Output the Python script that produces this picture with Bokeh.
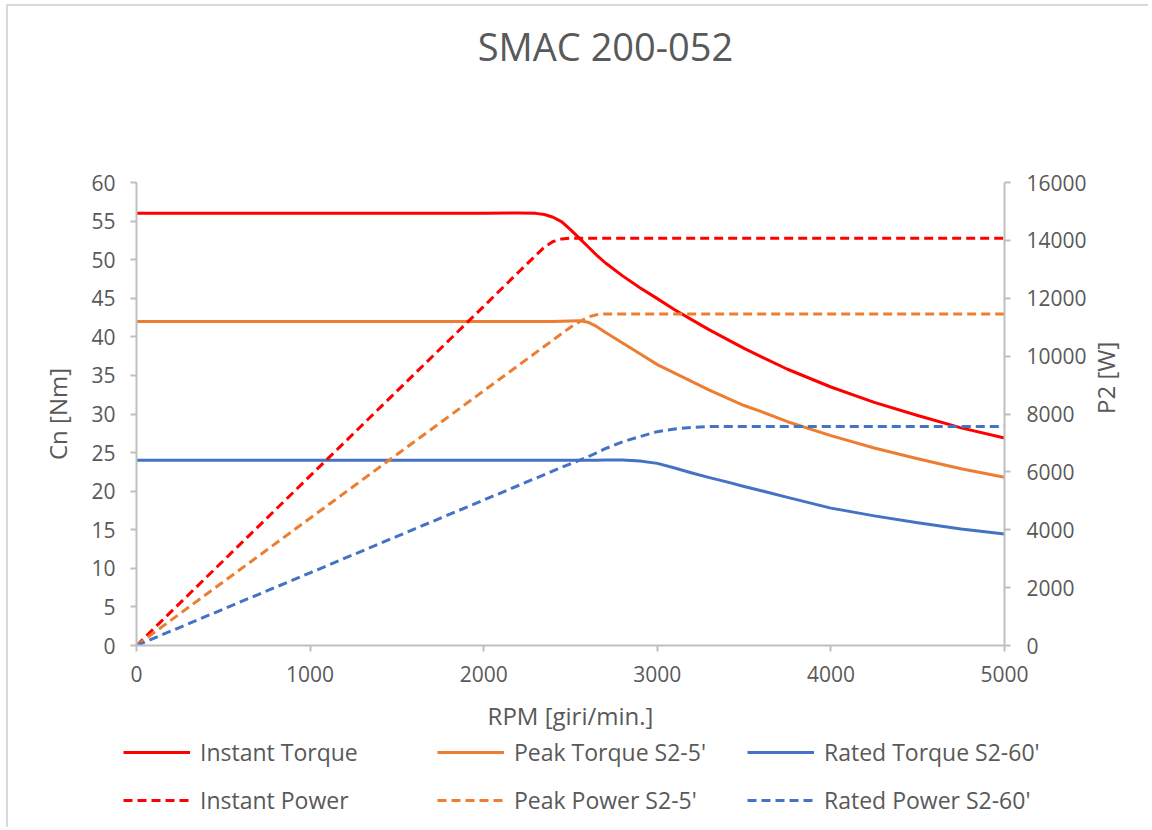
import math
from bokeh.plotting import figure
from bokeh.layouts import column
from bokeh.models import Range1d, LinearAxis, Legend, LegendItem, FixedTicker
from bokeh.core.properties import value
from bokeh.embed import file_html
from bokeh.resources import INLINE

# ---- data ----
rpm = [0, 500, 1000, 1500, 2000, 2200, 2300, 2350, 2400, 2450, 2500, 2550, 2600, 2650, 2700,
       2800, 2900, 3000, 3100, 3200, 3300, 3400, 3500, 3600, 3750, 4000, 4250, 4500, 4750, 5000]

instant_torque = [56, 56, 56, 56, 56, 56.05, 56.0, 55.85, 55.5, 54.9, 53.9, 52.8, 51.7, 50.6, 49.6,
                  47.9, 46.35, 44.95, 43.5, 42.2, 40.9, 39.7, 38.5, 37.4, 35.8, 33.5, 31.5, 29.8, 28.2, 26.9]
peak_torque = [42, 42, 42, 42, 42, 42, 42, 42, 42, 42.02, 42.05, 42.1, 41.9, 41.35, 40.6,
               39.2, 37.8, 36.4, 35.3, 34.2, 33.1, 32.1, 31.1, 30.3, 29.0, 27.2, 25.6, 24.2, 22.9, 21.8]
rated_torque = [24, 24, 24, 24, 24, 24, 24, 24, 24, 24, 24, 24, 24, 24, 24.05,
                24.03, 23.9, 23.6, 23.0, 22.35, 21.75, 21.2, 20.6, 20.05, 19.2, 17.8, 16.8, 15.9, 15.1, 14.45]

instant_power = [0, 2930, 5860, 8790, 11720, 12900, 13480, 13770, 13960, 14050, 14075, 14075, 14075, 14075, 14075,
                 14075, 14075, 14075, 14075, 14075, 14075, 14075, 14075, 14075, 14075, 14075, 14075, 14075, 14075, 14075]
peak_power = [0, 2200, 4400, 6600, 8800, 9680, 10120, 10340, 10560, 10780, 11000, 11180, 11350, 11430, 11460,
              11460, 11460, 11460, 11460, 11460, 11460, 11460, 11460, 11460, 11460, 11460, 11460, 11460, 11460, 11460]
rated_power = [0, 1257, 2513, 3770, 5027, 5529, 5781, 5906, 6032, 6158, 6280, 6400, 6520, 6660, 6800,
               7040, 7220, 7390, 7480, 7540, 7565, 7568, 7568, 7568, 7568, 7568, 7568, 7568, 7568, 7568]

x_ticks = [0, 1000, 2000, 3000, 4000, 5000]
y_ticks = [0, 5, 10, 15, 20, 25, 30, 35, 40, 45, 50, 55, 60]
p_ticks = [0, 2000, 4000, 6000, 8000, 10000, 12000, 14000, 16000]

title_text = "SMAC 200-052"
x_label = "RPM [giri/min.]"
y_label = "Cn [Nm]"
p_label = "P2 [W]"

series_names = ["Instant Torque", "Peak Torque S2-5'", "Rated Torque S2-60'",
                "Instant Power", "Peak Power S2-5'", "Rated Power S2-60'"]

# ---- styling ----
FONT = "Open Sans"
TXT = "#595959"
AX = "#bfbfbf"
RED, ORANGE, BLUE = "#ff0000", "#ed7d31", "#4472c4"
DASH = "9 5"
LW = 3
OX, OY = 8, 6          # content origin inside the chart-area border
W = 1140


def bare(fig):
    fig.axis.visible = False
    fig.grid.visible = False
    fig.outline_line_color = None
    fig.background_fill_color = "white"
    fig.border_fill_color = "white"


def no_align(fig):
    try:
        fig.frame_align = False
    except Exception:
        pass


# ---- title strip ----
TH = 100 - OY
ft = figure(width=W, height=TH, output_backend="svg", toolbar_location=None,
            x_range=Range1d(0, W), y_range=Range1d(0, TH),
            min_border_left=0, min_border_right=0, min_border_top=0, min_border_bottom=0)
bare(ft)
no_align(ft)
ft.text(x=[605 - OX], y=[TH - (45 - OY)], text=[title_text], text_align="center",
        text_baseline="middle", text_font=value(FONT), text_font_size="38px", text_color=TXT)

# ---- main chart ----
MH = 635
p = figure(width=W, height=MH, output_backend="svg", toolbar_location=None,
           x_range=Range1d(0, 5000), y_range=Range1d(0, 60),
           min_border_left=136 - OX, min_border_right=W - (1004 - OX),
           min_border_top=182 - 100, min_border_bottom=100 + MH - 645)
no_align(p)
p.extra_y_ranges = {"pw": Range1d(0, 16000)}
p.grid.visible = False
p.outline_line_color = None
p.background_fill_color = "white"
p.border_fill_color = "white"

p.add_layout(LinearAxis(y_range_name="pw", axis_label=p_label), "right")

p.xaxis[0].ticker = FixedTicker(ticks=x_ticks)
p.xaxis[0].axis_label = x_label
p.yaxis[0].ticker = FixedTicker(ticks=y_ticks)
p.yaxis[0].axis_label = y_label
p.yaxis[1].ticker = FixedTicker(ticks=p_ticks)

for ax in p.xaxis + p.yaxis:
    ax.axis_line_color = AX
    ax.axis_line_width = 2
    ax.major_tick_line_color = AX
    ax.major_tick_line_width = 2
    ax.major_tick_out = 6
    ax.major_tick_in = 0
    ax.minor_tick_in = 0
    ax.minor_tick_out = 0
    ax.minor_tick_line_color = None
    ax.major_label_text_font = FONT
    ax.major_label_text_font_size = "21px"
    ax.major_label_text_color = TXT
    ax.axis_label_text_font = FONT
    ax.axis_label_text_font_size = "24px"
    ax.axis_label_text_font_style = "normal"
    ax.axis_label_text_color = TXT
    ax.major_label_standoff = 14
    ax.axis_label_standoff = 14

p.yaxis[0].major_label_standoff = 15
p.yaxis[1].major_label_standoff = 16
p.yaxis[1].axis_label_standoff = 16
try:
    p.yaxis[1].axis_label_orientation = math.pi / 2
except Exception:
    pass

styles = [(RED, None), (ORANGE, None), (BLUE, None), (RED, DASH), (ORANGE, DASH), (BLUE, DASH)]
all_series = [instant_torque, peak_torque, rated_torque, instant_power, peak_power, rated_power]

for i, (vals, (col, d)) in enumerate(zip(all_series, styles)):
    kw = dict(line_color=col, line_width=LW, line_join="round")
    if d:
        kw["line_dash"] = d
    if i >= 3:
        kw["y_range_name"] = "pw"
    p.line(rpm, vals, **kw)

# ---- legend strip (series drawn out of view; only their legend swatches show) ----
LH = 92
fl = figure(width=W, height=LH, output_backend="svg", toolbar_location=None,
            x_range=Range1d(-W - 20, -20), y_range=Range1d(0, LH),
            min_border_left=0, min_border_right=0, min_border_top=0, min_border_bottom=0)
bare(fl)
no_align(fl)
swatches = []
for vals, (col, d) in zip(all_series, styles):
    kw = dict(line_color=col, line_width=LW)
    if d:
        kw["line_dash"] = d
    swatches.append(fl.line(rpm, vals, **kw))

LEG_H = 78
col_x = [123, 437, 747]
for i, x0 in enumerate(col_x):
    items = [LegendItem(label=series_names[i], renderers=[swatches[i]]),
             LegendItem(label=series_names[i + 3], renderers=[swatches[i + 3]])]
    leg = Legend(items=items, location=(x0 - OX, LH - (738 - 100 - MH) - LEG_H),
                 orientation="vertical",
                 glyph_width=67, glyph_height=20, label_height=20, label_standoff=10,
                 spacing=16, padding=0, margin=0,
                 border_line_color=None, background_fill_alpha=0,
                 label_text_font=FONT, label_text_font_size="23px", label_text_color=TXT)
    fl.add_layout(leg)

layout = column(ft, p, fl, spacing=0,
                styles={"border-left": "2px solid #d9d9d9", "border-top": "2px solid #d9d9d9",
                        "margin-left": "6px", "margin-top": "4px"})
open("out.html", "w").write(file_html(layout, INLINE))
